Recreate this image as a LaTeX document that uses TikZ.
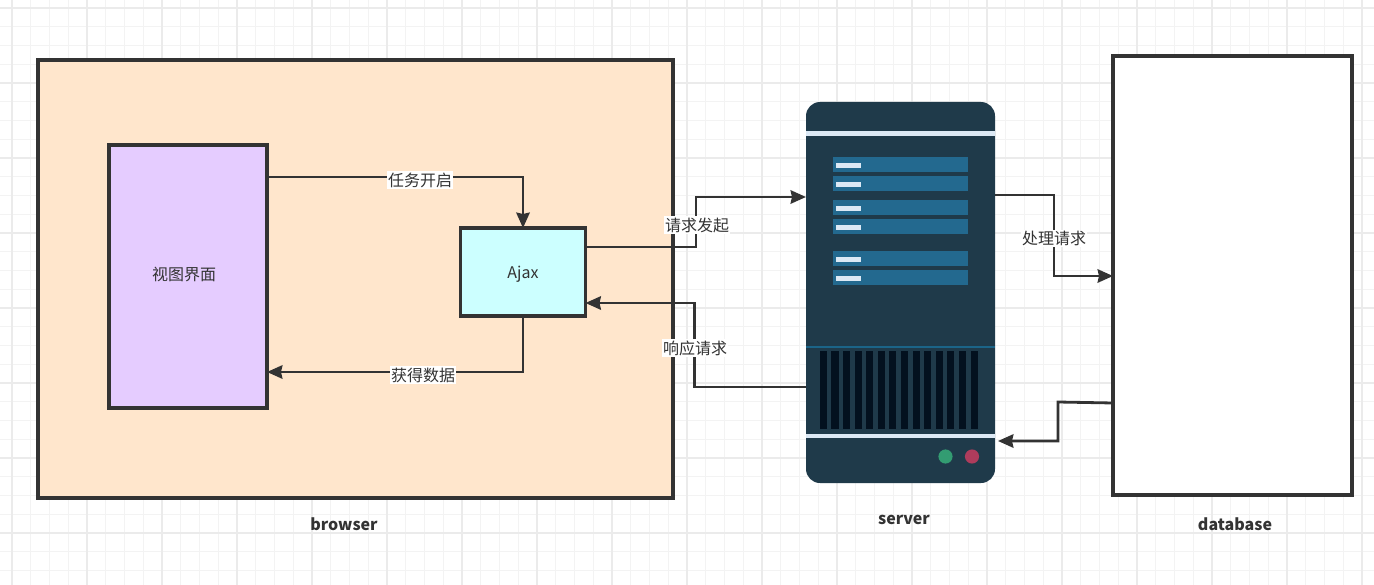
\documentclass[tikz,border=0pt]{standalone}
\usepackage{fontspec}
\setmainfont{Noto Sans CJK SC}
\usetikzlibrary{arrows.meta}
\definecolor{strokec}{HTML}{333333}
\definecolor{gridminor}{HTML}{F3F3F3}
\definecolor{gridmajor}{HTML}{EBEBEB}
\definecolor{browserc}{HTML}{FFE6CC}
\definecolor{viewc}{HTML}{E5CCFF}
\definecolor{ajaxc}{HTML}{CCFFFF}
\definecolor{serverc}{HTML}{1F3A4A}
\definecolor{slotc}{HTML}{23698F}
\definecolor{lightc}{HTML}{DCE9F5}
\definecolor{ventc}{HTML}{03111F}
\definecolor{linec}{HTML}{1B6488}
\definecolor{greenc}{HTML}{339C72}
\definecolor{redc}{HTML}{AE3C5C}
\tikzset{
  x=0.75pt,y=-0.75pt,
  boxn/.style={rectangle,inner sep=0pt,outer sep=0pt,anchor=north west},
  boxline/.style={draw=strokec,line width=2.3pt},
  conn/.style={draw=strokec,line width=2.1pt,-{Stealth[length=11.5pt,width=10pt,inset=1pt]}},
  boxtext/.style={inner sep=0pt,text=strokec,font=\fontsize{12}{14}\selectfont},
  edgelabel/.style={fill=white,inner sep=1pt,text=strokec,font=\fontsize{12}{14}\selectfont},
  caption/.style={text=strokec,font=\fontsize{12}{14}\selectfont\bfseries},
  slot/.style={fill=slotc,draw=none},
  led/.style={fill=lightc,draw=none},
  vent/.style={fill=ventc,draw=none},
}
\begin{document}
\begin{tikzpicture}
\useasboundingbox (0,0) rectangle (1374,585);
\fill[white] (0,0) rectangle (1374,585);
% grid
\foreach \k in {-1,...,73}{
  \pgfmathsetmacro{\gx}{12+18.75*\k}
  \draw[gridminor,line width=1pt] (\gx,0) -- (\gx,585);
}
\foreach \k in {-4,...,31}{
  \pgfmathsetmacro{\gy}{8+18.75*\k}
  \draw[gridminor,line width=1pt] (0,\gy) -- (1374,\gy);
}
\foreach \k in {0,...,18}{
  \pgfmathsetmacro{\gx}{12+75*\k}
  \draw[gridmajor,line width=0.9pt] (\gx,0) -- (\gx,585);
}
\foreach \k in {0,...,7}{
  \pgfmathsetmacro{\gy}{8+75*\k}
  \draw[gridmajor,line width=0.9pt] (0,\gy) -- (1374,\gy);
}
% containers
\node[boxn,fill=browserc,minimum width=476.25pt,minimum height=328.5pt] (browser) at (38,60) {};
\draw[boxline] (browser.north west) rectangle (browser.south east);
\node[boxn,fill=viewc,minimum width=118.5pt,minimum height=197.25pt] (view) at (109,145) {};
\draw[boxline] (view.north west) rectangle (view.south east);
\node[boxn,fill=ajaxc,minimum width=93.75pt,minimum height=66pt] (ajax) at (460.5,228) {};
\draw[boxline] (ajax.north west) rectangle (ajax.south east);
\node[boxn,fill=white,minimum width=179.25pt,minimum height=329.25pt] (database) at (1113,56) {};
\draw[boxline] (database.north west) rectangle (database.south east);
\node[boxtext] (viewtext) at (184,274.5) {视图界面};
\node[boxtext] (ajaxtext) at (523,274.5) {Ajax};
% server
\node[fill=serverc,draw=none,rounded corners=10.5pt,anchor=north west,inner sep=0pt,outer sep=0pt,minimum width=141.75pt,minimum height=285.75pt] (server) at (806,102) {};
\fill[lightc] (806,131) rectangle (995,136);
\foreach \yy in {157,176,200,219,251,270}{
  \fill[slot] (833,\yy) rectangle (968,\yy+15);
  \fill[led] (836,\yy+6) rectangle (861,\yy+10.5);
}
\fill[linec] (806,345.5) rectangle (995,347.5);
\foreach \xx in {89,124,159,194,228,264,297,333,368,402,437,471,506,543}{
  \pgfmathsetmacro{\vx}{790+\xx/3}
  \fill[vent] (\vx,351) rectangle (\vx+7.3,429);
}
\fill[lightc] (806,433.5) rectangle (995,437.5);
\fill[greenc] (945.5,456.5) circle[radius=5.3pt];
\fill[redc] (972,456.5) circle[radius=5.3pt];
% connectors
\draw[conn] (view.east |- 0,177) -| (ajax.north);
\draw[conn] (ajax.south) |- (view.east |- 0,372);
\draw[conn] (ajax.east |- 0,247) -- (696,247) -- (696,197) -- (server.west |- 0,197);
\draw[conn] (server.west |- 0,387) -- (694.5,387) -- (694.5,303) -- (ajax.east |- 0,303);
\draw[conn] (server.east |- 0,195) -- (1054,195) -- (1054,276) -- (database.west |- 0,276);
\coordinate (serverIn) at (998,441);
\draw[conn] (database.west |- 0,403) -- (1058,402) -- (1058,441) -- (serverIn);
% labels
\node[edgelabel] (l1) at (420,180) {任务开启};
\node[edgelabel] (l2) at (423,375) {获得数据};
\node[edgelabel] (l3) at (697,225) {请求发起};
\node[edgelabel] (l4) at (695,348) {响应请求};
\node[edgelabel] (l5) at (1054,238.5) {处理请求};
\node[caption] (c1) at (344,524) {browser};
\node[caption] (c2) at (904,520) {server};
\node[caption] (c3) at (1235,524) {database};
\end{tikzpicture}
\end{document}
